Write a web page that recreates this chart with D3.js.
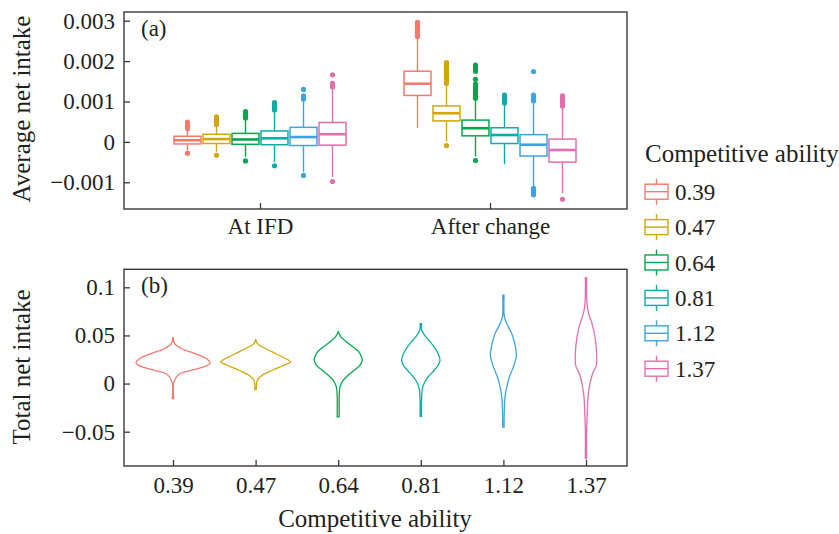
<!DOCTYPE html>
<html>
<head>
<meta charset="utf-8">
<script src="https://cdn.jsdelivr.net/npm/d3@7"></script>
<style>
body { margin: 0; background: #fff; }
svg text { fill: #231f20; }
</style>
</head>
<body>
<svg id="chart" width="839" height="534"></svg>
<script>
var abilities = ["0.39", "0.47", "0.64", "0.81", "1.12", "1.37"];
var colours = ["#f47a6d", "#d2a60c", "#06a64f", "#0eaca6", "#3ea3e3", "#e26fae"];
var phases = ["At IFD", "After change"];

// [lower whisker, q1, median, q3, upper whisker]
var ifdBoxes = [
	[-0.00020, -0.00005, 0.00004, 0.00014, 0.00030],
	[-0.00024, -0.00004, 0.00007, 0.00019, 0.00040],
	[-0.00037, -0.00006, 0.00006, 0.00021, 0.00056],
	[-0.00050, -0.00007, 0.00009, 0.00027, 0.00074],
	[-0.00074, -0.00009, 0.00012, 0.00036, 0.00102],
	[-0.00087, -0.00008, 0.00019, 0.00048, 0.00131]
];
var ifdOutliers = [
	[0.00033, 0.00037, 0.00041, 0.00045, 0.00049, -0.00028],
	[0.00043, 0.00048, 0.00053, 0.00058, 0.00062, -0.00033],
	[0.00059, 0.00063, 0.00067, 0.00071, 0.00075, -0.00047],
	[0.00079, 0.00083, 0.00087, 0.00093, 0.00097, -0.00059],
	[0.00106, 0.00110, 0.00114, 0.00130, -0.00083],
	[0.00136, 0.00140, 0.00145, 0.00166, -0.00098]
];
var afterBoxes = [
	[0.00034, 0.00115, 0.00144, 0.00175, 0.00257],
	[0.00001, 0.00052, 0.00071, 0.00089, 0.00141],
	[-0.00036, 0.00015, 0.00034, 0.00054, 0.00104],
	[-0.00055, -0.00004, 0.00017, 0.00035, 0.00094],
	[-0.00111, -0.00035, -0.00007, 0.00018, 0.00098],
	[-0.00127, -0.00050, -0.00020, 0.00007, 0.00087]
];
var afterOutliers = [
	[0.00261, 0.00266, 0.00271, 0.00276, 0.00281, 0.00286, 0.00291, 0.00296],
	[0.00145, 0.00150, 0.00155, 0.00160, 0.00165, 0.00170, 0.00175, 0.00180, 0.00186, 0.00191, 0.00196, -0.00009],
	[0.00108, 0.00113, 0.00118, 0.00123, 0.00128, 0.00133, 0.00138, 0.00143, 0.00155, 0.00175, 0.00180, 0.00186, 0.00190, -0.00046],
	[0.00096, 0.00100, 0.00104, 0.00108, 0.00112, 0.00116],
	[0.00102, 0.00106, 0.00110, 0.00116, 0.00174, -0.00115, -0.00119, -0.00123, -0.00127, -0.00131],
	[0.00089, 0.00094, 0.00099, 0.00104, 0.00109, 0.00114, -0.00142]
];

var topTicks = [-0.001, 0, 0.001, 0.002, 0.003];
var bottomTicks = [-0.05, 0, 0.05, 0.1];

// total net intake, violin outline: values and relative density
var violinValues = [
	[0.0485, 0.0415, 0.0364, 0.0312, 0.0260, 0.0214, 0.0183, 0.0138, 0.0097, 0.0017, -0.0156],
	[0.0461, 0.0415, 0.0364, 0.0312, 0.0260, 0.0225, 0.0190, 0.0138, 0.0086, 0.0034, -0.0063],
	[0.0537, 0.0485, 0.0433, 0.0381, 0.0329, 0.0277, 0.0242, 0.0190, 0.0138, 0.0086, 0.0034, -0.0018, -0.0070, -0.0347],
	[0.0623, 0.0554, 0.0485, 0.0433, 0.0381, 0.0312, 0.0242, 0.0190, 0.0138, 0.0069, 0.0017, -0.0035, -0.0104, -0.0340],
	[0.0918, 0.0693, 0.0623, 0.0519, 0.0415, 0.0294, 0.0173, 0.0069, -0.0035, -0.0139, -0.0243, -0.0451],
	[0.1101, 0.0831, 0.0727, 0.0623, 0.0485, 0.0312, 0.0190, 0.0104, 0.0000, -0.0139, -0.0278, -0.0485, -0.0780]
];
var violinDensity = [
	[0.00, 0.045, 0.225, 0.586, 0.90, 1.00, 0.90, 0.495, 0.162, 0.027, 0.019],
	[0.00, 0.045, 0.27, 0.54, 0.81, 0.946, 0.766, 0.45, 0.18, 0.045, 0.019],
	[0.00, 0.072, 0.225, 0.405, 0.559, 0.63, 0.649, 0.586, 0.432, 0.27, 0.135, 0.063, 0.036, 0.027],
	[0.018, 0.027, 0.135, 0.252, 0.36, 0.468, 0.52, 0.468, 0.36, 0.198, 0.108, 0.054, 0.027, 0.018],
	[0.018, 0.027, 0.09, 0.225, 0.306, 0.351, 0.27, 0.162, 0.09, 0.045, 0.027, 0.018],
	[0.018, 0.027, 0.072, 0.162, 0.243, 0.288, 0.279, 0.18, 0.108, 0.054, 0.036, 0.018, 0.018]
];

var svg = d3.select("#chart");
var fontSize = 23;
var titleSize = 25;
var fontFamily = "'Liberation Serif', 'DejaVu Serif', 'Noto Serif', Tinos, 'Times New Roman', Times, serif";
var axisColour = "#3a3a3a";
var numFormat = d3.format("");

function addText(sel, size) {
	return sel.append("text").attr("font-size", size || fontSize).attr("font-family", fontFamily);
}

// ---------- panel (a) ----------
var panelA = {left: 124, right: 627, top: 12, bottom: 209};
var yA = d3.scaleLinear().domain([-0.001, 0.003]).range([182.3, 20.7]);
var xA = d3.scalePoint().domain(phases).range([260, 490]);
var dodge = d3.scaleBand().domain(abilities).range([-86, 86]).paddingInner(0.07);

function styleAxis(g) {
	g.attr("font-size", fontSize).attr("font-family", fontFamily).attr("color", axisColour);
	g.select(".domain").remove();
	g.selectAll(".tick line").attr("stroke-width", 1.3);
}

svg.append("g")
	.attr("transform", "translate(" + panelA.left + ",0)")
	.call(d3.axisLeft(yA).tickValues(topTicks).tickSizeInner(-6).tickSizeOuter(0).tickPadding(9).tickFormat(numFormat))
	.call(styleAxis);

svg.append("g")
	.attr("transform", "translate(0," + panelA.bottom + ")")
	.call(d3.axisBottom(xA).tickSizeInner(-6).tickSizeOuter(0).tickPadding(9))
	.call(styleAxis);

var boxSets = [ifdBoxes, afterBoxes];
var outlierSets = [ifdOutliers, afterOutliers];
var bw = dodge.bandwidth();

phases.forEach(function(p, pi) {
	abilities.forEach(function(ab, i) {
		var s = boxSets[pi][i];
		var cx = xA(p) + dodge(ab) + bw / 2;
		var col = colours[i];
		var g = svg.append("g").attr("stroke", col).attr("fill", "none");
		g.append("line").attr("x1", cx).attr("x2", cx).attr("y1", yA(s[4])).attr("y2", yA(s[3])).attr("stroke-width", 1.4);
		g.append("line").attr("x1", cx).attr("x2", cx).attr("y1", yA(s[1])).attr("y2", yA(s[0])).attr("stroke-width", 1.4);
		g.append("rect")
			.attr("x", cx - bw / 2).attr("width", bw)
			.attr("y", yA(s[3])).attr("height", yA(s[1]) - yA(s[3]))
			.attr("fill", "#fff").attr("stroke-width", 1.5);
		g.append("line").attr("x1", cx - bw / 2).attr("x2", cx + bw / 2)
			.attr("y1", yA(s[2])).attr("y2", yA(s[2])).attr("stroke-width", 2.6);
		g.selectAll("circle").data(outlierSets[pi][i]).enter().append("circle")
			.attr("cx", cx).attr("cy", function(d) { return yA(d); })
			.attr("r", 2.6).attr("fill", col).attr("stroke", "none");
	});
});

svg.append("rect")
	.attr("x", panelA.left).attr("y", panelA.top)
	.attr("width", panelA.right - panelA.left).attr("height", panelA.bottom - panelA.top)
	.attr("fill", "none").attr("stroke", axisColour).attr("stroke-width", 1.4);

addText(svg).attr("x", 141).attr("y", 36).text("(a)");
addText(svg, titleSize)
	.attr("transform", "translate(30,109) rotate(-90)")
	.attr("text-anchor", "middle")
	.text("Average net intake");

// ---------- panel (b) ----------
var panelB = {left: 124, right: 627, top: 269.3, bottom: 466};
var yB = d3.scaleLinear().domain([-0.05, 0.1]).range([431.7, 287.3]);
var xB = d3.scalePoint().domain(abilities).range([173, 586]);
var wB = d3.scaleLinear().domain([0, 1]).range([0, 37]);

svg.append("g")
	.attr("transform", "translate(" + panelB.left + ",0)")
	.call(d3.axisLeft(yB).tickValues(bottomTicks).tickSizeInner(-6).tickSizeOuter(0).tickPadding(9).tickFormat(numFormat))
	.call(styleAxis);

svg.append("g")
	.attr("transform", "translate(0," + panelB.bottom + ")")
	.call(d3.axisBottom(xB).tickSizeInner(-6).tickSizeOuter(0).tickPadding(11))
	.call(styleAxis);

abilities.forEach(function(ab, i) {
	var cx = xB(ab);
	var pts = violinValues[i].map(function(v, k) { return {v: v, d: violinDensity[i][k]}; });
	var area = d3.area()
		.curve(d3.curveCatmullRom.alpha(0.5))
		.y(function(d) { return yB(d.v); })
		.x0(function(d) { return cx - wB(d.d); })
		.x1(function(d) { return cx + wB(d.d); });
	svg.append("path")
		.attr("d", area(pts))
		.attr("fill", "#fff")
		.attr("stroke", colours[i])
		.attr("stroke-width", 1.3);
});

svg.append("rect")
	.attr("x", panelB.left).attr("y", panelB.top)
	.attr("width", panelB.right - panelB.left).attr("height", panelB.bottom - panelB.top)
	.attr("fill", "none").attr("stroke", axisColour).attr("stroke-width", 1.4);

addText(svg).attr("x", 141).attr("y", 293).text("(b)");
addText(svg, titleSize)
	.attr("transform", "translate(30,367) rotate(-90)")
	.attr("text-anchor", "middle")
	.text("Total net intake");
addText(svg, titleSize)
	.attr("x", 375).attr("y", 527)
	.attr("text-anchor", "middle")
	.text("Competitive ability");

// ---------- legend ----------
var legend = svg.append("g").attr("transform", "translate(645,0)");
addText(legend, titleSize).attr("x", 0).attr("y", 162).text("Competitive ability");

abilities.forEach(function(ab, i) {
	var cy = 191.7 + i * 35.4;
	var k = legend.append("g").attr("stroke", colours[i]).attr("fill", "none").attr("stroke-width", 1.4);
	k.append("line").attr("x1", 11.5).attr("x2", 11.5).attr("y1", cy - 13).attr("y2", cy - 7.5);
	k.append("line").attr("x1", 11.5).attr("x2", 11.5).attr("y1", cy + 7.5).attr("y2", cy + 13);
	k.append("rect").attr("x", 0).attr("y", cy - 7.5).attr("width", 23).attr("height", 15);
	k.append("line").attr("x1", 0).attr("x2", 23).attr("y1", cy).attr("y2", cy);
	addText(legend).attr("x", 30).attr("y", cy + 8).text(ab);
});
</script>
</body>
</html>
